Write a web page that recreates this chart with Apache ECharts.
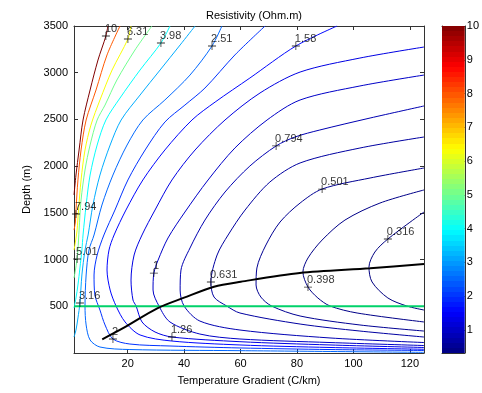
<!DOCTYPE html>
<html><head><meta charset="utf-8">
<script src="https://cdn.jsdelivr.net/npm/echarts@6/dist/echarts.min.js"></script>
<style>html,body{margin:0;padding:0;background:#fff}#c{width:482px;height:393px}</style>
</head><body><div id="c"></div>
<script>
// ---- data ----
const levels = [0.316, 0.398, 0.501, 0.631, 0.794, 1, 1.26, 1.58, 2, 2.51, 3.16, 3.98, 5.01, 6.31, 7.94, 10];
const xTicks = [20, 40, 60, 80, 100, 120];
const yTicks = [500, 1000, 1500, 2000, 2500, 3000, 3500];
const cbTicks = [1, 2, 3, 4, 5, 6, 7, 8, 9, 10];

const c0316 = [[125,1509],[112.2,1220],[107.6,1081],[105.5,920],[106.6,760],[112.2,589],[118.9,503],[125,460]];
const c0398 = [[125,1745],[109.4,1605],[97,1423],[88.9,1209],[83.9,1017],[82.1,867],[83.9,706],[87.4,589],[91.7,503],[101.3,428],[125,332]];
const c0501 = [[125,1980],[105.9,1873],[88.9,1755],[81.1,1605],[74,1402],[69,1156],[65.8,910],[65.5,728],[67.2,599],[71,503],[81.1,396],[102.3,300],[125,235]];
const c0631 = [[125,2312],[102.3,2194],[81.1,2034],[70.4,1830],[61.6,1530],[55.6,1263],[51.7,1049],[49.5,760],[50.6,599],[55.1,503],[59.8,428],[81.1,310],[102.3,235],[125,171]];
const c0794 = [[125,2644],[105.9,2515],[88.1,2387],[79.3,2312],[72.6,2216],[63.3,2001],[54.5,1723],[47.4,1423],[42.1,1124],[38.9,888],[38.6,674],[40,503],[45.6,342],[59.8,246],[91.7,161],[125,112]];
const c1 = [[125,2975],[102.3,2858],[81.1,2708],[69.4,2494],[58,2194],[48.5,1852],[40.3,1509],[34.3,1231],[30.8,995],[29.3,856],[29,674],[31.1,503],[35,332],[45.6,203],[59.8,150],[91.7,112],[125,80]];
const c126 = [[125,3275],[102.3,3157],[81.1,3007],[66.9,2783],[54.5,2494],[43.9,2173],[35.7,1852],[29.7,1530],[25.1,1263],[22.3,1049],[21.2,781],[21.9,567],[23,503],[25.1,332],[29.7,225],[35.7,171],[59.8,121],[91.7,86],[125,59]];
const c158 = [[94.2,3500],[79.6,3286],[63.3,2943],[51,2686],[42.8,2494],[33.2,2173],[25.4,1852],[19.4,1530],[15.2,1263],[13.4,1102],[12.7,888],[13.8,674],[15.9,503],[19.1,332],[24.4,193],[35.7,128],[59.8,86],[91.7,59],[125,40]];
const c2 = [[68.7,3500],[58,3190],[47.4,2836],[40.3,2654],[33.2,2472],[26.2,2173],[20.1,1852],[15.5,1530],[11.6,1263],[9.2,1049],[8.1,835],[8.4,621],[10.2,460],[12,300],[14.8,150],[20.8,96],[35,75],[59.8,54],[91.7,37],[125,27]];
const c251 = [[53.4,3500],[49.9,3286],[42.1,2975],[33.2,2708],[25.4,2494],[19.8,2226],[14.8,1905],[10.9,1584],[8.1,1263],[6.3,1102],[5.3,835],[4.9,503],[5.3,300],[6.7,139],[10.2,64],[20.8,37],[59.8,25],[125,7]];
const c316 = [[43.9,3500],[38.6,3297],[31.5,3029],[24.4,2761],[17.7,2494],[13.8,2226],[10.2,1905],[7.7,1584],[6,1263],[4.9,1102],[3.8,835],[3.1,535],[2.4,375],[1.7,246],[1,171]];
const c398 = [[35,3500],[31.8,3318],[24.4,3029],[17.3,2729],[12.3,2494],[9.2,2226],[6.7,1905],[5.3,1584],[4.2,1263],[3.8,1102],[3.1,910],[2.4,728],[1.7,589],[1,482]];
const c501 = [[28.6,3500],[22.6,3243],[16.2,2922],[12,2654],[9.2,2494],[6.7,2226],[4.9,1959],[3.5,1638],[2.8,1316],[2.4,1102],[2.1,1006],[1.4,867],[1,803]];
const c631 = [[21.2,3500],[20.1,3361],[14.5,3029],[10.2,2708],[7,2440],[4.9,2173],[3.5,1852],[2.6,1530],[2.1,1316],[1.5,1188],[1,1102]];
const c794 = [[17.3,3500],[12.7,3190],[8.8,2815],[5.3,2494],[3.5,2173],[2.4,1852],[1.7,1530],[1.5,1402],[1,1316]];
const c10 = [[13,3500],[12.3,3393],[9.5,3136],[6.7,2815],[4.2,2494],[2.8,2173],[1.7,1905],[1,1691]];
const contours = [c0316, c0398, c0501, c0631, c0794, c1, c126, c158, c2, c251, c316, c398, c501, c631, c794, c10];

const contourLabels = [
  [12.3,3393,'10'],[20.1,3361,'6.31'],[31.8,3318,'3.98'],[49.9,3286,'2.51'],[79.6,3286,'1.58'],
  [72.6,2216,'0.794'],[88.9,1755,'0.501'],[112.2,1220,'0.316'],[1.7,1488,'7.94'],[2.1,1006,'5.01'],
  [3.1,535,'3.16'],[14.8,150,'2'],[29.3,856,'1'],[49.5,760,'0.631'],[35.7,171,'1.26'],[83.9,706,'0.398']
];
const minLine = [[11,147],[18.7,271],[30.5,478],[40,592],[50.6,710],[60.1,763],[81,856],[105.9,907],[125,952]];
const refDepthLine = [[1,500],[125,500]];
const cbRange = [0.316, 10];

// ---- styling helpers ----
function jet(t){
  t = Math.max(0, Math.min(1, t));
  const f = (a) => Math.max(0, Math.min(1, a));
  const r = f(Math.min(4*t - 1.5, -4*t + 4.5));
  const g = f(Math.min(4*t - 0.5, -4*t + 3.5));
  const b = f(Math.min(4*t + 0.5, -4*t + 2.5));
  return 'rgb(' + Math.round(r*255) + ',' + Math.round(g*255) + ',' + Math.round(b*255) + ')';
}
const lvMin = cbRange[0], lvMax = cbRange[1];
const FONT = "'Liberation Sans', Arial, sans-serif";
const AX = '#333';
const plain = v => String(v);

const stops = [];
const N = 64;
for (let i = 0; i < N; i++) {
  const c = jet((i + 0.5) / N);
  stops.push({offset: i / N, color: c});
  stops.push({offset: (i + 1) / N, color: c});
}

const series = [];
contours.forEach((pts, i) => {
  series.push({
    type: 'line', xAxisIndex: 0, yAxisIndex: 0, data: pts, symbol: 'none', smooth: 0.3,
    clip: true, silent: true, z: 2,
    lineStyle: {color: jet((levels[i] - lvMin) / (lvMax - lvMin)), width: 1}
  });
});
series.push({type: 'line', xAxisIndex: 0, yAxisIndex: 0, data: refDepthLine, symbol: 'none',
  lineStyle: {color: '#00d26a', width: 2}, z: 3, silent: true});
series.push({type: 'line', xAxisIndex: 0, yAxisIndex: 0, data: minLine, symbol: 'none', smooth: 0.3,
  lineStyle: {color: '#000', width: 2}, z: 4, silent: true});
series.push({type: 'scatter', xAxisIndex: 0, yAxisIndex: 0, z: 5, silent: true,
  data: contourLabels.map(d => ({value: [d[0], d[1]], name: d[2]})),
  symbol: 'path://M0,4.5H10V5.5H0Z M4.5,0H5.5V10H4.5Z', symbolSize: 8,
  itemStyle: {color: '#000'},
  label: {show: true, position: 'right', distance: -5, offset: [0, -7], formatter: p => p.name,
    color: '#000', fontSize: 11, fontFamily: FONT}
});
series.push({type: 'custom', xAxisIndex: 2, yAxisIndex: 3, silent: true,
  data: [[0, cbRange[0], cbRange[1]]],
  renderItem: function(params, api){
    const p0 = api.coord([0, api.value(1)]);
    const p1 = api.coord([1, api.value(2)]);
    return {type: 'rect', shape: {x: p0[0], y: p1[1], width: p1[0]-p0[0], height: p0[1]-p1[1]},
      style: {fill: new echarts.graphic.LinearGradient(0, 1, 0, 0, stops)}};
  }
});

const tickStyle = {show: true, inside: true, length: 4, lineStyle: {color: AX}};
const lineStyle = {show: true, onZero: false, lineStyle: {color: AX, width: 1}};
const labelStyle = {color: '#000', fontSize: 11, fontFamily: FONT};

const option = {
  animation: false,
  backgroundColor: '#fff',
  title: {text: 'Resistivity (Ohm.m)', left: 249, top: 5, textAlign: 'center',
    textStyle: {fontSize: 11, fontWeight: 'normal', color: '#000', fontFamily: FONT}},
  grid: [
    {left: 74, top: 26, width: 350, height: 327},
    {left: 442, top: 26, width: 27, height: 327}
  ],
  xAxis: [
    {type: 'value', gridIndex: 0, position: 'bottom', min: 1, max: 125,
      axisLine: lineStyle, splitLine: {show: false},
      axisTick: Object.assign({customValues: xTicks}, tickStyle),
      axisLabel: Object.assign({customValues: xTicks, margin: 5, formatter: plain}, labelStyle),
      name: 'Temperature Gradient (C/km)', nameLocation: 'middle', nameGap: 22,
      nameTextStyle: labelStyle},
    {type: 'value', gridIndex: 0, position: 'top', min: 1, max: 125,
      axisLine: lineStyle, splitLine: {show: false},
      axisTick: Object.assign({customValues: xTicks}, tickStyle),
      axisLabel: {show: false}},
    {type: 'value', gridIndex: 1, position: 'bottom', min: 0, max: 1,
      axisLine: lineStyle, splitLine: {show: false}, axisTick: {show: false}, axisLabel: {show: false}},
    {type: 'value', gridIndex: 1, position: 'top', min: 0, max: 1,
      axisLine: lineStyle, splitLine: {show: false}, axisTick: {show: false}, axisLabel: {show: false}}
  ],
  yAxis: [
    {type: 'value', gridIndex: 0, position: 'left', min: 0, max: 3500,
      axisLine: lineStyle, splitLine: {show: false},
      axisTick: Object.assign({customValues: yTicks}, tickStyle),
      axisLabel: Object.assign({customValues: yTicks, margin: 6, formatter: plain}, labelStyle),
      name: 'Depth (m)', nameLocation: 'middle', nameGap: 39, nameRotate: 90,
      nameTextStyle: labelStyle},
    {type: 'value', gridIndex: 0, position: 'right', min: 0, max: 3500,
      axisLine: lineStyle, splitLine: {show: false},
      axisTick: Object.assign({customValues: yTicks}, tickStyle),
      axisLabel: {show: false}},
    {type: 'value', gridIndex: 1, position: 'left', min: cbRange[0], max: cbRange[1],
      axisLine: lineStyle, splitLine: {show: false}, axisTick: {show: false}, axisLabel: {show: false}},
    {type: 'value', gridIndex: 1, position: 'right', min: cbRange[0], max: cbRange[1],
      axisLine: lineStyle, splitLine: {show: false},
      axisTick: Object.assign({customValues: cbTicks}, tickStyle, {length: 3}),
      axisLabel: Object.assign({customValues: cbTicks, margin: 2, formatter: plain}, labelStyle)}
  ],
  series: series
};
const chart = echarts.init(document.getElementById('c'), null, {renderer: 'canvas'});
chart.setOption(option);
</script>
</body></html>
